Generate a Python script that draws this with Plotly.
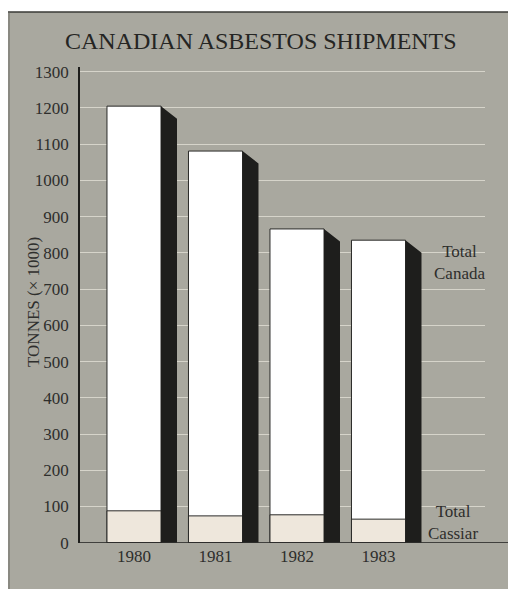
import plotly.graph_objects as go

years = ["1980", "1981", "1982", "1983"]
total_canada = [1205, 1081, 866, 835]
total_cassiar = [88, 74, 77, 65]
y_ticks = [0, 100, 200, 300, 400, 500, 600, 700, 800, 900, 1000, 1100, 1200, 1300]

W, H = 508, 589
FONT = "Liberation Serif"
PANEL = "#a9a89f"
TXT = "#2e2e2c"

xs = list(range(len(years)))
bar_w = 0.663
dx = 0.196   # shadow depth (x units)
dy = 34.5    # shadow slant (y units)

fig = go.Figure()

# shadow (dark side) polygons derived from data
sx, sy = [], []
for x, v in zip(xs, total_canada):
    xr = x + bar_w / 2
    sx += [xr, xr + dx, xr + dx, xr, xr, None]
    sy += [v, v - dy, 0, 0, v, None]
fig.add_trace(go.Scatter(x=sx, y=sy, mode="lines", fill="toself",
                         fillcolor="#1e1e1c", line=dict(width=0, color="#1e1e1c"),
                         hoverinfo="skip", showlegend=False))

fig.add_trace(go.Bar(x=xs, y=total_canada, width=bar_w,
                     marker=dict(color="#ffffff", line=dict(color="#2a2a28", width=1)),
                     showlegend=False))
fig.add_trace(go.Bar(x=xs, y=total_cassiar, width=bar_w,
                     marker=dict(color="#eee7dc", line=dict(color="#2a2a28", width=1)),
                     showlegend=False))

PX_UNIT = 81.5
x_left_px, x_right_px = 80, 485
x0p, x1p = x_left_px / W, x_right_px / W
xmin = -(134 - x_left_px) / PX_UNIT
xmax = xmin + (x_right_px - x_left_px) / PX_UNIT
ytop_px, ybot_px = 67, 542.7
ymax = (ybot_px - ytop_px) / 0.3623

fig.update_layout(
    width=W, height=H,
    margin=dict(l=0, r=0, t=0, b=0, pad=0),
    paper_bgcolor="white",
    plot_bgcolor="rgba(0,0,0,0)",
    barmode="overlay",
    xaxis=dict(domain=[x0p, x1p], range=[xmin, xmax], automargin=False,
               tickmode="array", tickvals=xs, ticktext=years,
               showgrid=False, zeroline=False, showline=False, ticks="",
               ticklabelstandoff=1,
               tickfont=dict(family=FONT, size=17, color=TXT)),
    yaxis=dict(domain=[(H - ybot_px) / H, (H - ytop_px) / H], range=[0, ymax],
               automargin=False,
               tickmode="array", tickvals=y_ticks,
               showgrid=True, gridcolor="#d6d4ca", gridwidth=1,
               zeroline=False, showline=True, linecolor="#1e1e1c", linewidth=1.5,
               ticks="", ticklabelstandoff=6,
               tickfont=dict(family=FONT, size=17, color=TXT)),
    shapes=[
        dict(type="rect", xref="paper", yref="paper", x0=8 / W, x1=1.02,
             y0=-0.05, y1=(H - 12) / H, fillcolor=PANEL, line=dict(width=0),
             layer="below"),
        dict(type="line", xref="paper", yref="paper", x0=8 / W, x1=1.02,
             y0=(H - 12) / H, y1=(H - 12) / H, line=dict(color="#3a3a36", width=1.5)),
        dict(type="line", xref="paper", yref="paper", x0=9 / W, x1=9 / W,
             y0=-0.05, y1=(H - 12) / H, line=dict(color="#6a6a64", width=1)),
        dict(type="line", xref="paper", yref="y", x0=x0p, x1=1.02,
             y0=0, y1=0, line=dict(color="#1e1e1c", width=1.5)),
    ],
    annotations=[
        dict(text="CANADIAN ASBESTOS SHIPMENTS", xref="paper", yref="paper",
             x=261 / W, y=(H - 41) / H, showarrow=False, xanchor="center", yanchor="middle",
             font=dict(family=FONT, size=24, color="#252523")),
        dict(text="TONNES (× 1000)", xref="paper", yref="paper", textangle=-90,
             x=33 / W, y=(H - 302) / H, showarrow=False, xanchor="center", yanchor="middle",
             font=dict(family=FONT, size=17, color=TXT)),
        dict(text="Total<br>Canada", xref="paper", yref="paper",
             x=459 / W, y=(H - 262) / H, showarrow=False, xanchor="center", yanchor="middle",
             font=dict(family=FONT, size=17, color=TXT)),
        dict(text="Total<br>Cassiar", xref="paper", yref="paper",
             x=453 / W, y=(H - 522) / H, showarrow=False, xanchor="center", yanchor="middle",
             font=dict(family=FONT, size=17, color=TXT)),
    ],
)

fig.write_html("out.html")
